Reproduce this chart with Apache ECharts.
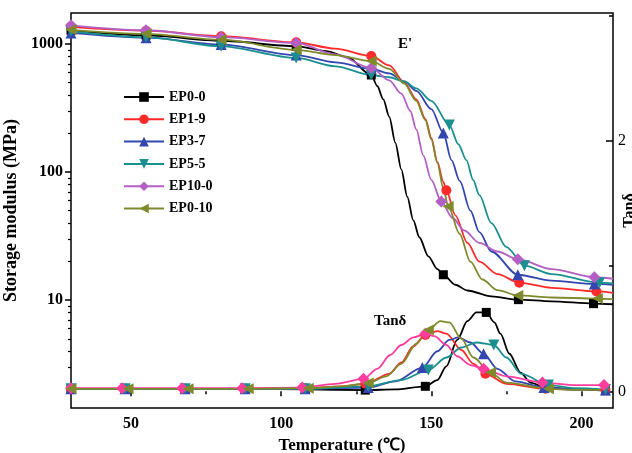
<!DOCTYPE html>
<html>
<head>
<meta charset="utf-8">
<script src="https://cdn.jsdelivr.net/npm/echarts@6/dist/echarts.min.js"></script>
<style>
  html, body { margin: 0; padding: 0; background: #fff; }
  #chart { width: 632px; height: 453px; }
</style>
</head>
<body>
<div id="chart"></div>
<script>
// series names
const names = ['EP0-0', 'EP1-9', 'EP3-7', 'EP5-5', 'EP10-0', 'EP0-10']

// storage modulus E' (MPa) vs temperature, [T, E']
const ep00E = [[30, 1280], [55, 1170], [80, 1060], [105, 960], [115, 880], [122, 790], [130, 573], [132, 470], [134, 370], [136, 270], [138, 170], [140, 105], [142, 64], [144, 42], [146, 31], [149, 22], [152, 17.5], [154, 15.8], [158, 13.2], [162, 11.9], [170, 10.7], [179, 10.1], [190, 9.8], [204, 9.4], [210.5, 9.3]]
const ep19E = [[30, 1360], [55, 1270], [80, 1150], [105, 1030], [118, 920], [130, 806], [136, 680], [141, 500], [145, 370], [148, 260], [150, 185], [152, 120], [154, 84], [155, 72], [158, 46], [162, 28], [166, 20], [172, 16], [179.3, 13.7], [190, 12.5], [205, 11.7], [210.5, 11.4]]
const ep37E = [[30, 1220], [55, 1120], [80, 990], [105, 820], [118, 720], [130, 640], [136, 590], [141, 510], [145, 430], [150, 310], [154, 202], [156.7, 124], [159.5, 85], [163, 50], [166, 34], [170, 24], [178.8, 15.8], [190, 14.2], [204.3, 13.4], [210.5, 13.2]]
const ep55E = [[30, 1260], [55, 1130], [80, 960], [105, 778], [118, 670], [130, 573], [136, 550], [141, 510], [145, 450], [150, 360], [156, 233], [159, 165], [161.7, 124], [163.9, 87], [166, 66], [170, 40], [175, 26], [181, 18.6], [190, 16], [206, 13.7], [210.5, 13.5]]
const ep100E = [[30, 1400], [55, 1280], [80, 1130], [105, 1020], [118, 830], [130, 649], [136, 520], [140, 410], [143, 300], [145, 215], [147.3, 135], [150, 87], [153.3, 59], [157, 44], [161, 35], [166, 28], [172, 24], [178.8, 20.9], [190, 17.5], [204.3, 15.1], [210.5, 14.7]]
const ep010E = [[30, 1290], [55, 1200], [80, 1080], [105, 900], [118, 820], [130, 736], [136, 640], [141, 490], [145, 360], [148, 255], [150, 180], [152, 118], [154, 75], [155.6, 54], [159.4, 33], [163, 20], [167, 14.5], [172, 12], [178.8, 10.9], [190, 10.5], [205.3, 10.3], [210.5, 10.2]]

// temperatures where E' markers are drawn
const ep00EMarks = [30, 55, 80, 105, 130, 154, 179, 204]
const ep19EMarks = [30, 55, 80, 105, 130, 155, 179.3, 205]
const ep37EMarks = [30, 55, 80, 105, 130, 154, 178.8, 204.3]
const ep55EMarks = [30, 55, 80, 105, 130, 156, 181, 206]
const ep100EMarks = [30, 55, 80, 105, 130, 153.3, 178.8, 204.3]
const ep010EMarks = [30, 55, 80, 105, 130, 155.6, 178.8, 205.3]

// tan delta vs temperature, [T, tan d]
const ep00T = [[30, 0.02], [48, 0.02], [68, 0.02], [88, 0.02], [108, 0.015], [128, 0.01], [138, 0.015], [148, 0.04], [152, 0.09], [155, 0.2], [158.6, 0.41], [162, 0.56], [165, 0.63], [168.3, 0.63], [171, 0.55], [173, 0.46], [176, 0.3], [179.7, 0.15], [183, 0.07], [188, 0.03], [198, 0.015], [208, 0.005]]
const ep19T = [[30, 0.02], [48, 0.02], [68, 0.02], [88, 0.02], [108, 0.025], [120, 0.04], [128, 0.06], [136, 0.14], [140, 0.23], [144, 0.36], [148, 0.45], [152, 0.48], [155, 0.46], [160, 0.33], [164, 0.22], [168, 0.14], [175, 0.06], [188, 0.02], [198, 0.015], [208, 0.01]]
const ep37T = [[30, 0.02], [48, 0.02], [68, 0.02], [88, 0.02], [108, 0.02], [129, 0.03], [138, 0.08], [147, 0.19], [152, 0.32], [156, 0.41], [159, 0.43], [163, 0.39], [167.4, 0.3], [172, 0.18], [178, 0.08], [187.5, 0.03], [198, 0.015], [208, 0.01]]
const ep55T = [[30, 0.02], [48, 0.02], [68, 0.02], [88, 0.02], [108, 0.02], [129, 0.04], [140, 0.09], [149, 0.17], [155, 0.27], [160, 0.35], [165, 0.39], [170.8, 0.37], [175, 0.27], [180, 0.14], [189, 0.05], [198, 0.025], [208, 0.015]]
const ep100T = [[30, 0.025], [47, 0.025], [67, 0.025], [87, 0.025], [107, 0.03], [118, 0.06], [127.4, 0.1], [132, 0.18], [136.3, 0.29], [140, 0.37], [144, 0.43], [148, 0.46], [151, 0.44], [155, 0.37], [158.6, 0.28], [163, 0.21], [167.4, 0.18], [175, 0.12], [187, 0.07], [198, 0.05], [207.5, 0.05]]
const ep010T = [[30, 0.02], [49, 0.02], [69, 0.02], [89, 0.02], [109, 0.025], [120, 0.04], [129, 0.066], [135, 0.12], [140, 0.22], [145, 0.38], [149, 0.49], [153, 0.56], [156, 0.55], [160, 0.42], [164, 0.27], [169.7, 0.15], [175, 0.07], [189, 0.02], [198, 0.012], [208, 0.01]]

// temperatures where tan d markers are drawn
const ep00TMarks = [30, 48, 68, 88, 108, 128, 148, 168.3, 188, 208]
const ep19TMarks = [30, 48, 68, 88, 108, 128, 148, 168, 188, 208]
const ep37TMarks = [30, 48, 68, 88, 108, 129, 147, 167.4, 187.5, 208]
const ep55TMarks = [30, 48, 68, 88, 108, 129, 149, 170.8, 189, 208]
const ep100TMarks = [30, 47, 67, 87, 107, 127.4, 148, 167.4, 187, 207.5]
const ep010TMarks = [30, 49, 69, 89, 109, 129, 149, 169.7, 189]

// ticks
const xMajor = [50, 100, 150, 200]
const xMinor = [75, 125, 175]
const eMajor = [10, 100, 1000]
const eMinor = [2, 3, 4, 5, 6, 7, 8, 9, 20, 30, 40, 50, 60, 70, 80, 90, 200, 300, 400, 500, 600, 700, 800, 900]
const tanMajor = [0, 2]
const tanMinor = [1, 3]

const serif = 'Liberation Serif'
const colors = ['#000000', '#ff2a2a', '#3346b0', '#1b8f8f', '#b45fc4', '#7f8a2c']
const tanColors = ['#000000', '#ff2a2a', '#3346b0', '#1b8f8f', '#ff3d9e', '#7f8a2c']
const symbols = ['rect', 'circle', 'triangle', 'triangle', 'diamond', 'triangle']
const rotates = [0, 0, 0, 180, 0, 90]
const sizes = [9, 10, 11, 11, 12, 11]

const eData = [ep00E, ep19E, ep37E, ep55E, ep100E, ep010E]
const eMarks = [ep00EMarks, ep19EMarks, ep37EMarks, ep55EMarks, ep100EMarks, ep010EMarks]
const tData = [ep00T, ep19T, ep37T, ep55T, ep100T, ep010T]
const tMarks = [ep00TMarks, ep19TMarks, ep37TMarks, ep55TMarks, ep100TMarks, ep010TMarks]

const makeSeries = (i, pts, marks, color, yIdx) => ({
  name: names[i],
  type: 'line',
  yAxisIndex: yIdx,
  smooth: 0.3,
  smoothMonotone: 'x',
  symbol: symbols[i],
  symbolRotate: rotates[i],
  symbolSize: sizes[i],
  showAllSymbol: true,
  data: pts.map(p => marks.includes(p[0]) ? { value: p } : { value: p, symbol: 'none' }),
  lineStyle: { color: color, width: 1.8 },
  itemStyle: { color: color },
  emphasis: { disabled: true },
})

const series = []
for (let i = 0; i < 6; i++) series.push(makeSeries(i, eData[i], eMarks[i], colors[i], 0))
for (let i = 0; i < 6; i++) series.push(makeSeries(i, tData[i], tMarks[i], tanColors[i], 3))

const hideAll = { axisLine: { show: false }, splitLine: { show: false } }

const myChart = echarts.init(document.getElementById('chart'))
const option = {
  animation: false,
  grid: {
    left: 71, right: 19, top: 13, bottom: 45,
    outerBoundsMode: 'none',
    containLabel: false,
    show: true, borderColor: '#000', borderWidth: 1.5, backgroundColor: 'transparent',
  },
  legend: {
    data: names,
    orient: 'vertical',
    left: 123,
    top: 90,
    padding: 0,
    itemWidth: 40,
    itemHeight: 12,
    itemGap: 8.3,
    textStyle: { fontFamily: serif, fontWeight: 'bold', fontSize: 14, lineHeight: 14, color: '#000' },
  },
  xAxis: [
    {
      type: 'value', min: 30, max: 210.5, position: 'bottom', ...hideAll,
      axisTick: { customValues: xMajor, length: 5, lineStyle: { color: '#000', width: 1.5 } },
      axisLabel: { customValues: xMajor, margin: 8, fontFamily: serif, fontWeight: 'bold', fontSize: 16, color: '#000' },
      name: 'Temperature (℃)', nameLocation: 'middle', nameGap: 27,
      nameTextStyle: { fontFamily: serif, fontWeight: 'bold', fontSize: 17, color: '#000' },
    },
    {
      type: 'value', min: 30, max: 210.5, position: 'bottom', ...hideAll,
      axisTick: { customValues: xMinor, length: 3, lineStyle: { color: '#000', width: 1.5 } },
      axisLabel: { show: false },
    },
  ],
  yAxis: [
    {
      // data axis for E' (log)
      type: 'log', logBase: 10, min: 1.44, max: 1746, position: 'left', ...hideAll,
      axisTick: { show: false }, axisLabel: { show: false },
    },
    {
      // major ticks / labels of the log axis, in decades
      type: 'value', min: 0.1584, max: Math.log10(1746), position: 'left', ...hideAll,
      axisTick: { customValues: eMajor.map(Math.log10), length: 6, lineStyle: { color: '#000', width: 1.5 } },
      axisLabel: {
        customValues: eMajor.map(Math.log10), margin: 8,
        formatter: v => String(Math.round(Math.pow(10, v))),
        fontFamily: serif, fontWeight: 'bold', fontSize: 16, color: '#000',
      },
      name: 'Storage modulus (MPa)', nameLocation: 'middle', nameGap: 37, nameRotate: 90,
      nameTextStyle: { fontFamily: serif, fontWeight: 'bold', fontSize: 18, color: '#000' },
    },
    {
      type: 'value', min: 0.1584, max: Math.log10(1746), position: 'left', ...hideAll,
      axisTick: { customValues: eMinor.map(Math.log10), length: 3, lineStyle: { color: '#000', width: 1.2 } },
      axisLabel: { show: false },
    },
    {
      // tan delta axis
      type: 'value', min: -0.133, max: 3.02, position: 'right', ...hideAll,
      axisTick: { inside: true, customValues: tanMajor, length: 7, lineStyle: { color: '#000', width: 1.5 } },
      axisLabel: { customValues: tanMajor, margin: 5, fontFamily: serif, fontSize: 16, color: '#000' },
      name: 'Tanδ', nameLocation: 'middle', nameGap: 9, nameRotate: 90, nameMoveOverlap: false,
      nameTextStyle: { fontFamily: serif, fontWeight: 'bold', fontSize: 16, color: '#000' },
    },
    {
      type: 'value', min: -0.133, max: 3.02, position: 'right', ...hideAll,
      axisTick: { inside: true, customValues: tanMinor, length: 4, lineStyle: { color: '#000', width: 1.5 } },
      axisLabel: { show: false },
    },
  ],
  graphic: [
    { type: 'text', left: 398, top: 37, style: { text: "E'", font: 'bold 15px "Liberation Serif"', fill: '#000' } },
    { type: 'text', left: 374, top: 314, style: { text: 'Tanδ', font: 'bold 15px "Liberation Serif"', fill: '#000' } },
  ],
  series: series,
}
option && myChart.setOption(option)
</script>
</body>
</html>
